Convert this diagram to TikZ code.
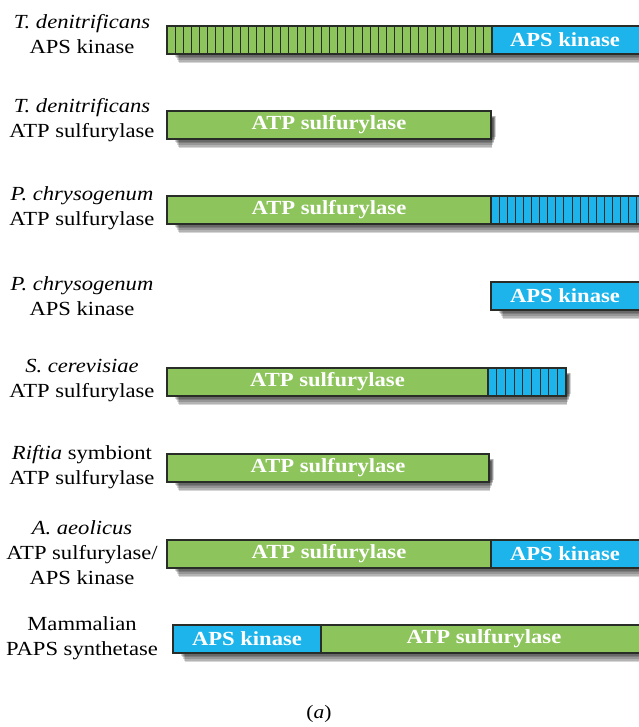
\documentclass[tikz,border=0pt]{standalone}
\usepackage{fontspec}
\setmainfont[FakeStretch=1.13]{Liberation Serif}
\definecolor{grn}{RGB}{141,196,92}
\definecolor{blu}{RGB}{28,180,234}
\definecolor{edge}{RGB}{40,45,40}
\tikzset{
  seg/.style={draw=edge, line width=1.2pt, minimum height=28pt, inner sep=0pt, outer sep=0pt, text=white, font=\bfseries\fontsize{20}{22}\selectfont},
  gseg/.style={seg, fill=grn},
  bseg/.style={seg, fill=blu},
  stripe/.style={draw=edge, line width=0.9pt},
  segtext/.style={text=white, font=\bfseries\fontsize{20}{22}\selectfont},
  lab/.style={align=center, inner sep=0pt, font=\fontsize{20}{25}\selectfont},
  shade/.style={fill=black, opacity=0.16}
}
\newcommand\mkshadow[3]{%
  \foreach \i in {0,...,7}{%
    \fill[shade] ({#1+4+\i*1.2},{#3+5+\i*0.4}) rectangle ({#2+5-\i*0.6},{#3+26+1.6*\i});
  }%
}
\newcommand\mkstripes[5]{% x1 x2 ytop n name
  \foreach \k in {1,...,#4}{%
    \pgfmathsetmacro\xx{#1+\k*(#2-#1)/(#4+1)}%
    \draw[stripe] (\xx,#3) -- (\xx,#3+28);
  }%
}
\begin{document}
\begin{tikzpicture}[x=1pt,y=-1pt]
\useasboundingbox (0,0) rectangle (638,727);
\fill[white] (0,0) rectangle (638,727);

% shadows
\mkshadow{167}{638}{26}
\mkshadow{167}{491}{111}
\mkshadow{167}{638}{196}
\mkshadow{491}{638}{282}
\mkshadow{167}{566}{368}
\mkshadow{167}{489}{454}
\mkshadow{167}{638}{540}
\mkshadow{173}{638}{625}

% Row 1
\node[gseg, minimum width=325pt, anchor=north west] (r1a) at (167,26) {};
\mkstripes{167}{492}{26}{39}{}
\node[bseg, minimum width=150pt, anchor=north west] (r1b) at (492,26) {};
\node[segtext] (t1) at (565,40) {APS kinase};
\node[lab] (l1) at (82,34) {\textit{T. denitrificans}\\APS kinase};

% Row 2
\node[gseg, minimum width=324pt, anchor=north west] (r2a) at (167,111) {ATP sulfurylase};
\node[lab] (l2) at (82,120) {\textit{T. denitrificans}\\ATP sulfurylase};

% Row 3
\node[gseg, minimum width=324pt, anchor=north west] (r3a) at (167,196) {ATP sulfurylase};
\node[bseg, minimum width=152pt, anchor=north west] (r3b) at (491,196) {};
\mkstripes{491}{653}{196}{19}{}
\node[lab] (l3) at (82,208) {\textit{P. chrysogenum}\\ATP sulfurylase};

% Row 4
\node[bseg, minimum width=152pt, anchor=north west] (r4a) at (491,282) {};
\node[segtext] (t4) at (565,296) {APS kinase};
\node[lab] (l4) at (82,296) {\textit{P. chrysogenum}\\APS kinase};

% Row 5
\node[gseg, minimum width=321pt, anchor=north west] (r5a) at (167,368) {ATP sulfurylase};
\node[bseg, minimum width=78pt, anchor=north west] (r5b) at (488,368) {};
\mkstripes{488}{566}{368}{8}{}
\node[lab] (l5) at (82,381) {\textit{S. cerevisiae}\\ATP sulfurylase};

% Row 6
\node[gseg, minimum width=322pt, anchor=north west] (r6a) at (167,454) {ATP sulfurylase};
\node[lab] (l6) at (82,467) {\textit{Riftia} symbiont\\ATP sulfurylase};

% Row 7
\node[gseg, minimum width=324pt, anchor=north west] (r7a) at (167,540) {ATP sulfurylase};
\node[bseg, minimum width=152pt, anchor=north west] (r7b) at (491,540) {};
\node[segtext] (t7) at (565,554) {APS kinase};
\node[lab] (l7) at (82,553) {\textit{A. aeolicus}\\ATP sulfurylase/\\APS kinase};

% Row 8
\node[bseg, minimum width=148pt, anchor=north west] (r8a) at (173,625) {APS kinase};
\node[gseg, minimum width=322pt, anchor=north west] (r8b) at (321,625) {};
\node[segtext] (t8) at (484,639) {ATP sulfurylase};
\node[lab] (l8) at (82,638) {Mammalian\\PAPS synthetase};

\node[font=\fontsize{19}{21}\selectfont] (cap) at (319,714) {(\textit{a})};
\end{tikzpicture}
\end{document}
